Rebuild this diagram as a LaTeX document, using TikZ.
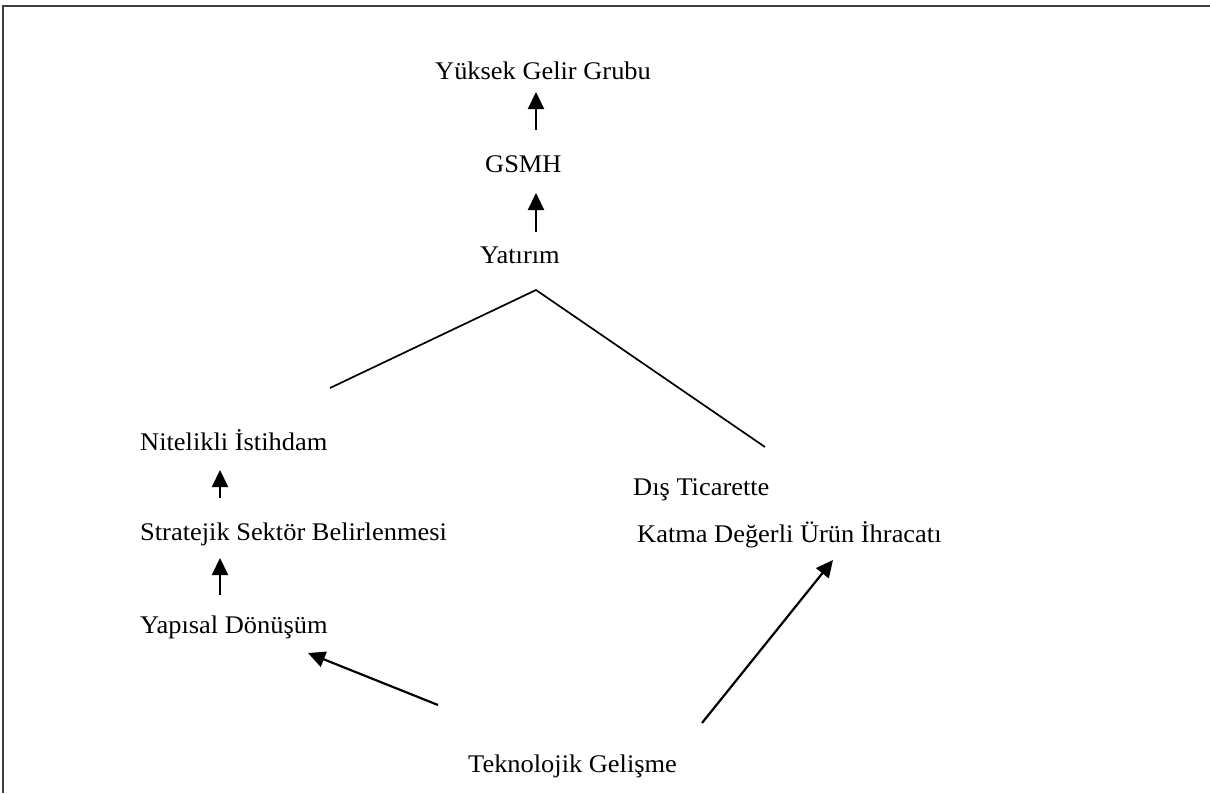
\documentclass[tikz,border=0pt]{standalone}
\usepackage{fontspec}
\setmainfont{Liberation Serif}[FakeStretch=1.04]
\usetikzlibrary{arrows.meta}
\tikzset{
  lbl/.style={anchor=base west, inner sep=0pt, font=\fontsize{25.4}{30}\selectfont},
  arr/.style={line width=2.2pt, -{Triangle[width=16pt,length=17pt]}},
  wedge/.style={line width=1.7pt},
  frame/.style={line width=1.7pt, draw={rgb,255:red,64;green,64;blue,64}}
}
\begin{document}
\begin{tikzpicture}[x=1pt,y=-1pt]
\useasboundingbox (0,0) rectangle (1210,793);
\draw[frame] (3,793) -- (3,6) -- (1210,6);
% nodes
\node[lbl] (ygg) at (435,79) {Yüksek Gelir Grubu};
\node[lbl] (gsmh) at (485,172) {GSMH};
\node[lbl] (yat) at (480,263) {Yatırım};
\node[lbl] (nit) at (140,450) {Nitelikli İstihdam};
\node[lbl] (str) at (140,540) {Stratejik Sektör Belirlenmesi};
\node[lbl] (yap) at (140,633) {Yapısal Dönüşüm};
\node[lbl] (dis) at (633,495) {Dış Ticarette};
\node[lbl] (kat) at (637,542) {Katma Değerli Ürün İhracatı};
\node[lbl] (tek) at (468,772) {Teknolojik Gelişme};
% connector endpoints
\coordinate (a1s) at (536,130); \coordinate (a1e) at (536,92);
\coordinate (a2s) at (536,232); \coordinate (a2e) at (536,193);
\coordinate (a3s) at (220,498); \coordinate (a3e) at (220,470);
\coordinate (a4s) at (220,595); \coordinate (a4e) at (220,558);
\coordinate (a5s) at (438,705); \coordinate (a5e) at (308,653);
\coordinate (a6s) at (702,723); \coordinate (a6e) at (833,560);
\coordinate (apex) at (536,290);
\coordinate (wl) at (330,388);
\coordinate (wr) at (765,447);
% connectors
\draw[arr] (a1s) -- (a1e);
\draw[arr] (a2s) -- (a2e);
\draw[arr] (a3s) -- (a3e);
\draw[arr] (a4s) -- (a4e);
\draw[arr] (a5s) -- (a5e);
\draw[arr] (a6s) -- (a6e);
\draw[wedge] (wl) -- (apex) -- (wr);
\end{tikzpicture}
\end{document}
